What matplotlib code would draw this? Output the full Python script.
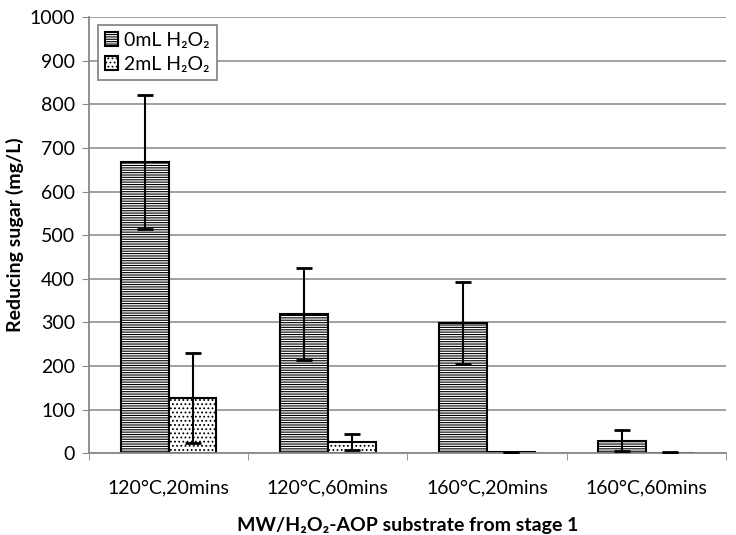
import numpy as np
import matplotlib.pyplot as plt

plt.rcParams['font.family'] = ['Lato', 'DejaVu Sans']
plt.rcParams['hatch.linewidth'] = 0.8

categories = ['120°C,20mins', '120°C,60mins', '160°C,20mins', '160°C,60mins']
series_labels = ['0mL H₂O₂', '2mL H₂O₂']
sugar_0ml = [668, 319, 299, 29]
err_0ml = [153, 105, 94, 23]
sugar_2ml = [127, 25, 2, 1]
err_2ml = [103, 18, 1, 1]

fig = plt.figure(figsize=(7.36, 5.35), dpi=100)
ax = fig.add_axes([0.121, 0.153, 0.865, 0.815])

x = np.arange(len(categories))
w = 0.3
ax.bar(x - w / 2, sugar_0ml, w, color='white', edgecolor='black', linewidth=1.5,
       hatch='-------', label=series_labels[0], zorder=2)
ax.bar(x + w / 2, sugar_2ml, w, color='white', edgecolor='black', linewidth=1.5,
       hatch='....', label=series_labels[1], zorder=2)
ax.errorbar(x - w / 2, sugar_0ml, yerr=err_0ml, fmt='none', ecolor='black',
            elinewidth=1.5, capsize=6, capthick=2, zorder=3)
ax.errorbar(x + w / 2, sugar_2ml, yerr=err_2ml, fmt='none', ecolor='black',
            elinewidth=1.5, capsize=6, capthick=2, zorder=3)

ax.set_xlim(-0.5, len(categories) - 0.5)
ax.set_ylim(0, 1000)
ax.set_yticks(np.arange(0, 1001, 100))
ax.set_xticks(x)
ax.set_xticklabels(categories, fontsize=14)
ax.set_xticks(np.arange(-0.5, len(categories), 1), minor=True)
ax.tick_params(axis='x', which='major', length=0, pad=19)
ax.tick_params(axis='x', which='minor', length=5, color='#888888', direction='out')
ax.tick_params(axis='y', labelsize=14, length=5, color='#888888', pad=5)
ax.grid(axis='y', color='#999999', linewidth=1.3, zorder=0)
ax.set_axisbelow(True)
for side in ['top', 'right']:
    ax.spines[side].set_visible(False)
for side in ['left', 'bottom']:
    ax.spines[side].set_color('#888888')
    ax.spines[side].set_linewidth(1.3)

ax.set_ylabel('Reducing sugar (mg/L)', fontsize=14, fontweight='bold', labelpad=4)
ax.set_xlabel('MW/H₂O₂-AOP substrate from stage 1', fontsize=14, fontweight='bold', labelpad=15)

leg = ax.legend(loc='upper left', bbox_to_anchor=(0.005, 0.995), fontsize=14, fancybox=False,
                edgecolor='#888888', framealpha=1, handlelength=0.7, handleheight=0.7,
                handletextpad=0.3, borderpad=0.35, labelspacing=0.35, borderaxespad=0.3)
leg.get_frame().set_linewidth(1.3)

fig.savefig('out.png', dpi=100)
